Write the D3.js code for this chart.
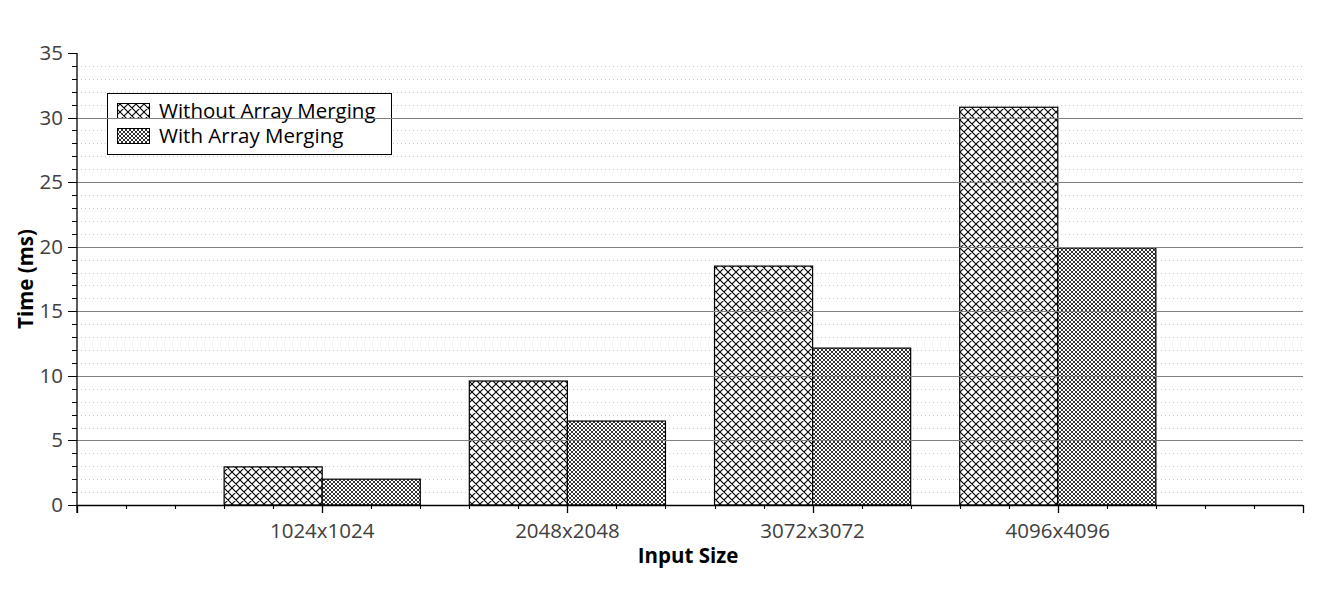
<!DOCTYPE html>
<html>
<head>
<meta charset="utf-8">
<script src="https://cdn.jsdelivr.net/npm/d3@7"></script>
<style>
html,body{margin:0;padding:0;background:#fff;}
svg{display:block;font-family:"Open Sans",sans-serif;}
</style>
</head>
<body>
<svg id="chart" width="1317" height="607"></svg>
<script>
const categories = ["1024x1024", "2048x2048", "3072x3072", "4096x4096"];
const seriesNames = ["Without Array Merging", "With Array Merging"];
const withoutMerging = [2.95, 9.6, 18.5, 30.8];
const withMerging = [2.0, 6.5, 12.15, 19.9];
const yTicks = [0, 5, 10, 15, 20, 25, 30, 35];

const svg = d3.select("#chart");
const margin = {left: 77, right: 14, top: 53, bottom: 102};
const W = 1317, H = 607;
const x = d3.scaleLinear().domain([0, categories.length + 1]).range([margin.left, W - margin.right]);
const y = d3.scaleLinear().domain([0, 35]).range([H - margin.bottom, margin.top]);
const barW = 0.4;
const FS = 20.5;

const defs = svg.append("defs");
const p1 = defs.append("pattern").attr("id", "pat0").attr("patternUnits", "userSpaceOnUse")
  .attr("width", 8).attr("height", 8);
p1.append("rect").attr("width", 8).attr("height", 8).attr("fill", "#fff");
p1.append("path").attr("d", "M0,0L8,8M8,0L0,8M-1,7L1,9M7,-1L9,1M-1,1L1,-1M7,9L9,7").attr("stroke", "#000").attr("stroke-width", 1.1);
const p2 = defs.append("pattern").attr("id", "pat1").attr("patternUnits", "userSpaceOnUse")
  .attr("width", 4).attr("height", 4);
p2.append("rect").attr("width", 4).attr("height", 4).attr("fill", "#fff");
p2.append("path").attr("d", "M0,0L4,4M4,0L0,4M-1,3L1,5M3,-1L5,1M-1,1L1,-1M3,5L5,3").attr("stroke", "#000").attr("stroke-width", 0.8);

// minor grid
const minorVals = d3.range(0, 36, 1).filter(v => v % 5 !== 0);
svg.append("g").selectAll("line").data(minorVals).join("line")
  .attr("x1", x(0)).attr("x2", x(5)).attr("y1", d => Math.round(y(d)) + 0.5).attr("y2", d => Math.round(y(d)) + 0.5)
  .attr("stroke", "#c8c8c8").attr("stroke-width", 1).attr("stroke-dasharray", "1,3");

// bars
const series = [withoutMerging, withMerging];
series.forEach((vals, si) => {
  svg.append("g").selectAll("rect").data(vals).join("rect")
    .attr("x", (d, i) => x(i + 1 - barW + si * barW))
    .attr("width", x(barW) - x(0))
    .attr("y", d => y(d))
    .attr("height", d => y(0) - y(d))
    .attr("fill", `url(#pat${si})`)
    .attr("stroke", "#000").attr("stroke-width", 1.2);
});

// legend
const lg = svg.append("g");
lg.append("rect").attr("x", 107.5).attr("y", 93.5).attr("width", 284).attr("height", 61)
  .attr("fill", "#fff").attr("stroke", "#000").attr("stroke-width", 1);
seriesNames.forEach((n, i) => {
  lg.append("rect").attr("x", 117.5).attr("y", 103.5 + i * 25).attr("width", 32).attr("height", 15)
    .attr("fill", `url(#pat${i})`).attr("stroke", "#000").attr("stroke-width", 1);
  lg.append("text").attr("x", 159).attr("y", 118 + i * 25).attr("font-size", FS).attr("fill", "#000").text(n);
});

// major grid (on top)
svg.append("g").selectAll("line").data(yTicks.filter(v => v > 0 && v < 35)).join("line")
  .attr("x1", x(0)).attr("x2", x(5)).attr("y1", d => Math.round(y(d)) + 0.5).attr("y2", d => Math.round(y(d)) + 0.5)
  .attr("stroke", "#808080").attr("stroke-width", 1);

// y axis
const yAxis = svg.append("g").attr("transform", `translate(${x(0)},0)`);
yAxis.append("line").attr("x1", 0).attr("x2", 0).attr("y1", y(35)).attr("y2", y(0) + 8).attr("stroke", "#000").attr("stroke-width", 1.3);
yAxis.selectAll("line.minor").data(minorVals).join("line").attr("class", "minor")
  .attr("x1", -5).attr("x2", 0).attr("y1", d => Math.round(y(d)) + 0.5).attr("y2", d => Math.round(y(d)) + 0.5)
  .attr("stroke", "#000").attr("stroke-width", 1);
yAxis.selectAll("line.major").data(yTicks).join("line").attr("class", "major")
  .attr("x1", -9).attr("x2", 0).attr("y1", d => Math.round(y(d)) + 0.5).attr("y2", d => Math.round(y(d)) + 0.5)
  .attr("stroke", "#000").attr("stroke-width", 1);
yAxis.selectAll("text").data(yTicks).join("text")
  .attr("x", -14).attr("y", d => y(d) + 7).attr("text-anchor", "end")
  .attr("font-size", FS).attr("fill", "#404040").text(d => d);

// x axis
const xAxis = svg.append("g");
xAxis.append("line").attr("x1", x(0)).attr("x2", x(5)).attr("y1", y(0) + 0.5).attr("y2", y(0) + 0.5).attr("stroke", "#000").attr("stroke-width", 1.3);
const xMinor = d3.range(0, 26).map(v => v / 5).filter((v, i) => i % 5 !== 0);
xAxis.selectAll("line.minor").data(xMinor).join("line").attr("class", "minor")
  .attr("x1", d => Math.round(x(d)) + 0.5).attr("x2", d => Math.round(x(d)) + 0.5)
  .attr("y1", y(0)).attr("y2", y(0) + 4).attr("stroke", "#000").attr("stroke-width", 1.1);
xAxis.selectAll("line.major").data(d3.range(0, 6)).join("line").attr("class", "major")
  .attr("x1", d => Math.round(x(d)) + 0.5).attr("x2", d => Math.round(x(d)) + 0.5)
  .attr("y1", y(0)).attr("y2", y(0) + 8).attr("stroke", "#000").attr("stroke-width", 1.3);
xAxis.selectAll("text").data(categories).join("text")
  .attr("x", (d, i) => x(i + 1)).attr("y", y(0) + 33).attr("text-anchor", "middle")
  .attr("font-size", FS).attr("fill", "#404040").text(d => d);

// titles
svg.append("text").attr("x", (x(0) + x(5)) / 2 - 2).attr("y", 563).attr("text-anchor", "middle")
  .attr("font-size", FS).attr("font-weight", "bold").attr("fill", "#000").text("Input Size");
svg.append("text").attr("transform", `translate(33,${(y(0) + y(35)) / 2}) rotate(-90)`).attr("text-anchor", "middle")
  .attr("font-size", FS).attr("font-weight", "bold").attr("fill", "#000").text("Time (ms)");
</script>
</body>
</html>
